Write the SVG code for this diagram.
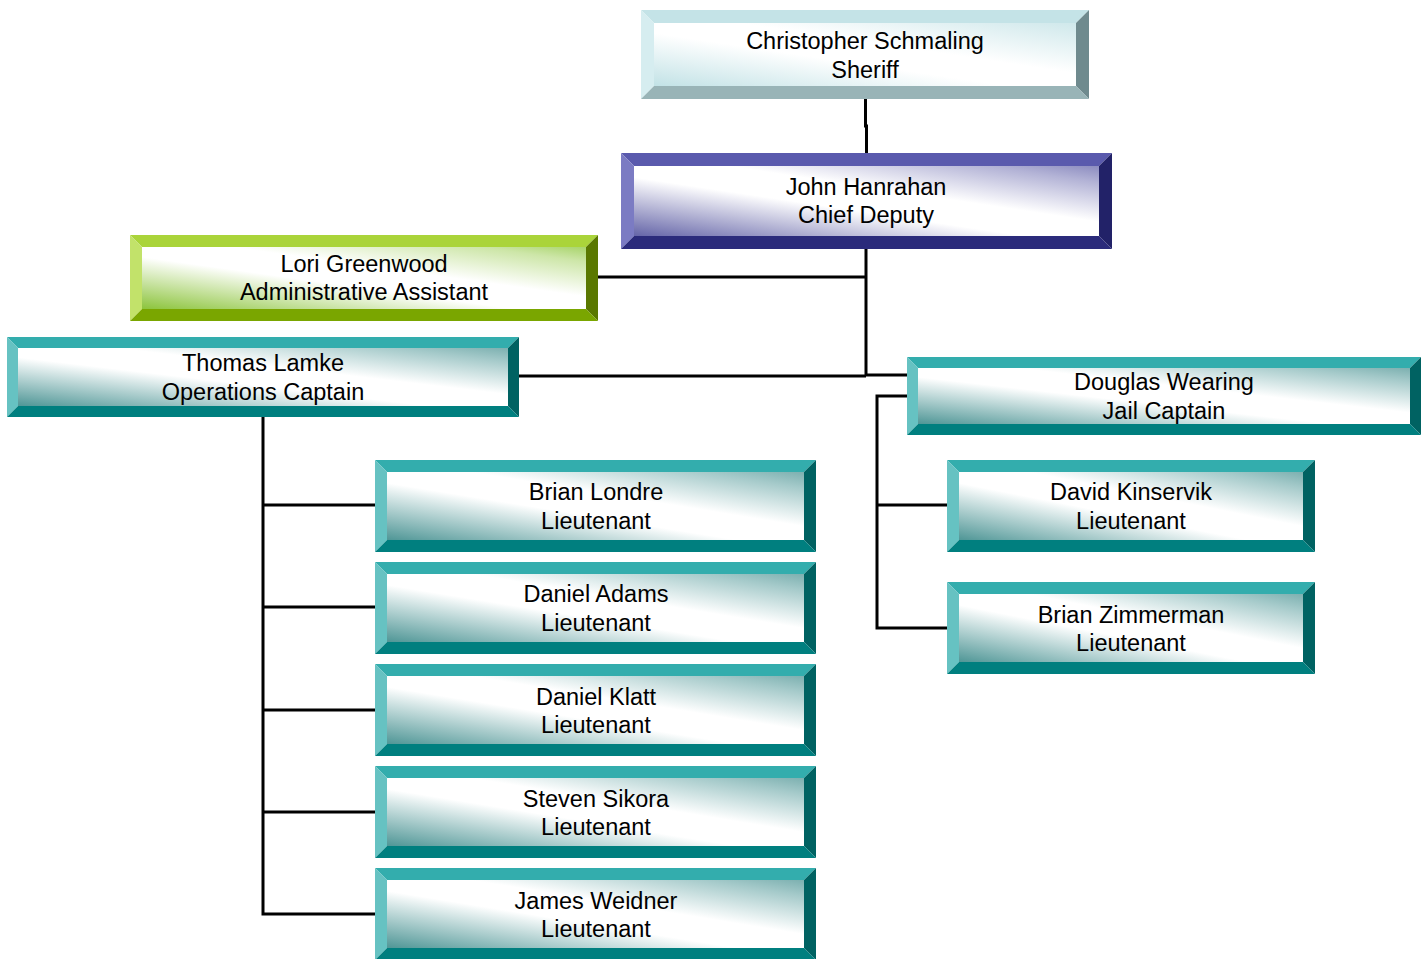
<svg xmlns="http://www.w3.org/2000/svg" xmlns:xlink="http://www.w3.org/1999/xlink" width="1427" height="959" viewBox="0 0 1427 959">
<style>
text{font-family:"Liberation Sans",Arial,sans-serif;font-size:23.5px;fill:#000;text-anchor:middle}
.conn{fill:none;stroke:#000;stroke-width:3}
.tl-t{fill:#33adad}.tl-l{fill:#66c2c2}.tl-r{fill:#006262}.tl-b{fill:#007f7f}
.sh-t{fill:#c4e3e7}.sh-l{fill:#d6edf0}.sh-r{fill:#6f8a8e}.sh-b{fill:#99b4b7}
.cd-t{fill:#5a5aad}.cd-l{fill:#7b7bc3}.cd-r{fill:#222268}.cd-b{fill:#2b2b7b}
.lg-t{fill:#aad43a}.lg-l{fill:#c2e26a}.lg-r{fill:#5a7800}.lg-b{fill:#7aa600}
</style>
<defs>
<linearGradient id="gTeal" x1="0" y1="1" x2="1" y2="0">
<stop offset="0" stop-color="#4f9696"/><stop offset="0.42" stop-color="#ffffff"/><stop offset="0.6" stop-color="#ffffff"/><stop offset="0.88" stop-color="#a5caca"/><stop offset="1" stop-color="#7cb0b0"/>
</linearGradient>
<linearGradient id="gSheriff" x1="0" y1="1" x2="1" y2="0">
<stop offset="0" stop-color="#c2e2e6"/><stop offset="0.42" stop-color="#ffffff"/><stop offset="0.6" stop-color="#ffffff"/><stop offset="1" stop-color="#cfe8eb"/>
</linearGradient>
<linearGradient id="gChief" x1="0" y1="1" x2="1" y2="0">
<stop offset="0" stop-color="#6565a8"/><stop offset="0.42" stop-color="#ffffff"/><stop offset="0.6" stop-color="#ffffff"/><stop offset="0.88" stop-color="#b3b3d6"/><stop offset="1" stop-color="#8c8cc0"/>
</linearGradient>
<linearGradient id="gLori" x1="0" y1="1" x2="1" y2="0">
<stop offset="0" stop-color="#8cc43c"/><stop offset="0.42" stop-color="#ffffff"/><stop offset="0.6" stop-color="#ffffff"/><stop offset="0.88" stop-color="#cde6a8"/><stop offset="1" stop-color="#a8d46a"/>
</linearGradient>
<g id="ltL">
<polygon class="tl-t" points="0,0 441,0 429,12 12,12"/>
<polygon class="tl-l" points="0,0 12,12 12,80 0,92"/>
<polygon class="tl-r" points="441,0 441,92 429,80 429,12"/>
<polygon class="tl-b" points="0,92 441,92 429,80 12,80"/>
<rect x="12" y="12" width="417" height="68" fill="url(#gTeal)"/>
</g>
<g id="ltR">
<polygon class="tl-t" points="0,0 368,0 356,12 12,12"/>
<polygon class="tl-l" points="0,0 12,12 12,80 0,92"/>
<polygon class="tl-r" points="368,0 368,92 356,80 356,12"/>
<polygon class="tl-b" points="0,92 368,92 356,80 12,80"/>
<rect x="12" y="12" width="344" height="68" fill="url(#gTeal)"/>
</g>
</defs>
<rect width="1427" height="959" fill="#ffffff"/>
<g id="connectors">
<path class="conn" d="M865.5,99 V126 H866.5 V153"/>
<path class="conn" d="M866,249 V376"/>
<path class="conn" d="M598,277 H866"/>
<path class="conn" d="M519,376 H866"/>
<path class="conn" d="M866,375 H907"/>
<path class="conn" d="M907,396 H877 V628 H947"/>
<path class="conn" d="M877,505 H947"/>
<path class="conn" d="M263,417 V914 H375"/>
<path class="conn" d="M263,505 H375"/>
<path class="conn" d="M263,607 H375"/>
<path class="conn" d="M263,710 H375"/>
<path class="conn" d="M263,812 H375"/>
</g>
<g id="sheriff">
<polygon class="sh-t" points="641,10 1089,10 1076,23 654,23"/>
<polygon class="sh-l" points="641,10 654,23 654,86 641,99"/>
<polygon class="sh-r" points="1089,10 1089,99 1076,86 1076,23"/>
<polygon class="sh-b" points="641,99 1089,99 1076,86 654,86"/>
<rect x="654" y="23" width="422" height="63" fill="url(#gSheriff)"/>
<text x="865" y="49">Christopher Schmaling</text>
<text x="865" y="78">Sheriff</text>
</g>
<g id="chief">
<polygon class="cd-t" points="621,153 1112,153 1099,166 634,166"/>
<polygon class="cd-l" points="621,153 634,166 634,236 621,249"/>
<polygon class="cd-r" points="1112,153 1112,249 1099,236 1099,166"/>
<polygon class="cd-b" points="621,249 1112,249 1099,236 634,236"/>
<rect x="634" y="166" width="465" height="70" fill="url(#gChief)"/>
<text x="866" y="195">John Hanrahan</text>
<text x="866" y="223">Chief Deputy</text>
</g>
<g id="lori">
<polygon class="lg-t" points="130,235 598,235 586,247 142,247"/>
<polygon class="lg-l" points="130,235 142,247 142,309 130,321"/>
<polygon class="lg-r" points="598,235 598,321 586,309 586,247"/>
<polygon class="lg-b" points="130,321 598,321 586,309 142,309"/>
<rect x="142" y="247" width="444" height="62" fill="url(#gLori)"/>
<text x="364" y="272">Lori Greenwood</text>
<text x="364" y="300">Administrative Assistant</text>
</g>
<g id="thomas">
<polygon class="tl-t" points="7,337 519,337 508,348 18,348"/>
<polygon class="tl-l" points="7,337 18,348 18,406 7,417"/>
<polygon class="tl-r" points="519,337 519,417 508,406 508,348"/>
<polygon class="tl-b" points="7,417 519,417 508,406 18,406"/>
<rect x="18" y="348" width="490" height="58" fill="url(#gTeal)"/>
<text x="263" y="371">Thomas Lamke</text>
<text x="263" y="400">Operations Captain</text>
</g>
<g id="douglas">
<polygon class="tl-t" points="907,357 1421,357 1410,368 918,368"/>
<polygon class="tl-l" points="907,357 918,368 918,424 907,435"/>
<polygon class="tl-r" points="1421,357 1421,435 1410,424 1410,368"/>
<polygon class="tl-b" points="907,435 1421,435 1410,424 918,424"/>
<rect x="918" y="368" width="492" height="56" fill="url(#gTeal)"/>
<text x="1164" y="390">Douglas Wearing</text>
<text x="1164" y="419">Jail Captain</text>
</g>
<g id="londre">
<use xlink:href="#ltL" x="375" y="460"/>
<text x="596" y="500">Brian Londre</text>
<text x="596" y="529">Lieutenant</text>
</g>
<g id="adams">
<use xlink:href="#ltL" x="375" y="562"/>
<text x="596" y="602">Daniel Adams</text>
<text x="596" y="631">Lieutenant</text>
</g>
<g id="klatt">
<use xlink:href="#ltL" x="375" y="664"/>
<text x="596" y="705">Daniel Klatt</text>
<text x="596" y="733">Lieutenant</text>
</g>
<g id="sikora">
<use xlink:href="#ltL" x="375" y="766"/>
<text x="596" y="807">Steven Sikora</text>
<text x="596" y="835">Lieutenant</text>
</g>
<g id="weidner">
<use xlink:href="#ltL" x="375" y="868"/>
<text x="596" y="909">James Weidner</text>
<text x="596" y="937">Lieutenant</text>
</g>
<g id="kinservik">
<use xlink:href="#ltR" x="947" y="460"/>
<text x="1131" y="500">David Kinservik</text>
<text x="1131" y="529">Lieutenant</text>
</g>
<g id="zimmerman">
<use xlink:href="#ltR" x="947" y="582"/>
<text x="1131" y="623">Brian Zimmerman</text>
<text x="1131" y="651">Lieutenant</text>
</g>
</svg>
